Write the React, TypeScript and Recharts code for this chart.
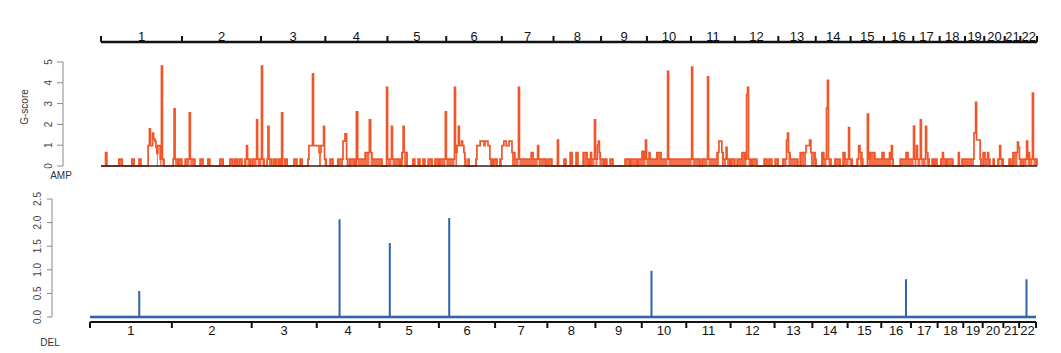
import { ComposedChart, LineChart, Line, Area, XAxis, YAxis, ReferenceLine } from 'recharts';

// hg19 chromosome lengths (Mb)
const CHROM_NAMES = ['1', '2', '3', '4', '5', '6', '7', '8', '9', '10', '11', '12', '13', '14', '15', '16', '17', '18', '19', '20', '21', '22'];
const CHROM_LEN_MB = [249.3, 243.2, 198.0, 191.2, 180.9, 171.1, 159.1, 146.4, 141.2, 135.5, 135.0, 133.9, 115.2, 107.3, 102.5, 90.4, 81.2, 78.1, 59.1, 63.0, 48.1, 51.3];

// AMP G-score profile: [genome position (Mb), G-score], held until next point
const AMP_STEPS: [number, number][] = [
  [0, 0], [14, 0.65], [18, 0], [55, 0.33], [65, 0], [95, 0.33], [102, 0], [117, 0.33], [123, 0],
  [145, 0.98], [149, 1.78], [152, 0.98], [159, 1.58], [162, 1.3], [166, 1.2], [169, 0.9], [172, 0.6], [175, 0.98], [182, 0.33], [186, 4.8], [189, 0.33], [194, 0],
  [222, 0.33], [225, 2.75], [228, 0.33], [237, 0], [240, 0.33], [249, 0],
  [259, 0.33], [272, 2.55], [275, 0.33], [289, 0], [305, 0.33], [314, 0], [329, 0.33], [335, 0], [366, 0.33], [376, 0],
  [397, 0.33], [406, 0], [412, 0.33], [419, 0], [425, 0.33], [434, 0],
  [443, 0.33], [448, 0.98], [451, 0.33], [459, 0], [465, 0.33], [479, 2.22], [482, 0.33], [494, 4.8], [497, 0.33], [502, 0],
  [511, 0.33], [514, 1.9], [517, 0.33], [526, 0], [532, 0.33], [539, 0], [545, 0.33], [551, 0],
  [556, 2.55], [559, 0], [566, 0.33], [573, 0], [594, 0.33], [603, 0], [613, 0.33], [619, 0],
  [637, 0.33], [640, 0.98], [651, 4.43], [654, 0.98], [671, 0.65], [677, 0.98], [685, 1.9], [688, 0.33], [693, 0],
  [705, 0.33], [714, 0], [729, 0.33], [745, 1.2], [751, 1.55], [756, 0.33], [760, 0], [766, 0.33], [782, 0],
  [786, 2.6], [790, 0.33], [813, 0.65], [826, 2.22], [830, 0.65], [834, 0.33], [865, 0],
  [879, 3.78], [882, 0.33], [894, 1.9], [897, 0.33], [920, 0],
  [923, 0.33], [926, 0.65], [930, 1.9], [933, 0.65], [942, 0],
  [960, 0.33], [966, 0], [976, 0.33], [982, 0], [991, 0.33], [997, 0], [1007, 0.33], [1019, 0],
  [1028, 0.33], [1040, 0], [1042, 0.33], [1060, 2.6], [1063, 0.33], [1088, 3.78], [1091, 0.65], [1096, 0.98], [1100, 1.9], [1103, 0.98], [1110, 1.2], [1113, 0.98], [1117, 0.65], [1120, 0.33], [1123, 0], [1130, 0.33], [1133, 0],
  [1154, 0.33], [1157, 0.98], [1167, 1.2], [1179, 0.98], [1182, 1.2], [1191, 0.98], [1197, 0.33], [1203, 0], [1207, 0.33], [1219, 0],
  [1228, 0.33], [1234, 0.98], [1240, 1.2], [1247, 0.98], [1256, 1.2], [1265, 0.65], [1274, 0.33], [1285, 3.78], [1288, 0.33], [1324, 0.65], [1330, 0.33], [1344, 0.98], [1347, 0.33], [1370, 0], [1376, 0.33], [1388, 0],
  [1405, 1.25], [1408, 0],
  [1425, 0.33], [1431, 0], [1444, 0.65], [1450, 0], [1462, 0.65], [1468, 0], [1484, 0.65], [1496, 0.33], [1502, 0], [1507, 0.65], [1510, 0.33], [1519, 2.22], [1522, 0.33], [1528, 1.0], [1531, 1.2], [1534, 0.65], [1537, 0.33], [1548, 0], [1551, 0.33], [1557, 0], [1567, 0.33], [1576, 0],
  [1613, 0.33], [1628, 0], [1631, 0.33], [1650, 0], [1653, 0.33], [1665, 0.7], [1671, 0.33], [1676, 1.25], [1679, 0.33], [1687, 0.65], [1690, 0.33], [1711, 0.65], [1724, 0.33], [1744, 4.55], [1747, 0.33],
  [1818, 4.75], [1821, 0.33], [1844, 0], [1850, 0.33], [1867, 4.28], [1870, 0.33], [1896, 0.65], [1902, 1.2], [1911, 0.65], [1915, 0.33], [1924, 0.9], [1927, 0.33], [1936, 0], [1939, 0.33], [1951, 0],
  [1958, 0.33], [1973, 0.65], [1982, 0.33], [1987, 3.43], [1990, 3.78], [1993, 0.33], [2001, 0],
  [2004, 0.33], [2019, 0], [2041, 0.33], [2050, 0], [2056, 0.33], [2065, 0], [2075, 0.33], [2084, 0],
  [2099, 0.33], [2110, 1.25], [2113, 1.58], [2116, 0.65], [2121, 0.33], [2145, 0],
  [2152, 0.65], [2170, 0.98], [2181, 1.25], [2185, 0.65], [2198, 0.33], [2201, 0],
  [2219, 0.65], [2225, 0.33], [2233, 2.78], [2236, 4.12], [2239, 0.33], [2247, 0],
  [2259, 0.33], [2275, 0], [2284, 0.65], [2290, 0.33], [2301, 1.85], [2304, 0.33], [2312, 0],
  [2327, 0.33], [2332, 0.98], [2336, 0.65], [2342, 0.33], [2345, 0], [2359, 2.5], [2362, 0.33], [2367, 0.65], [2382, 0.33], [2404, 0.65], [2410, 0.33], [2427, 0.65], [2430, 0.33], [2433, 0.98], [2436, 0.33], [2438, 0],
  [2460, 0.33], [2478, 0.65], [2484, 0.33], [2501, 1.92], [2504, 0.33], [2510, 0.98], [2513, 0.33], [2522, 2.22], [2525, 0.33], [2538, 1.9], [2541, 0.65], [2545, 0.33], [2549, 0],
  [2558, 0.33], [2564, 0], [2567, 0.33], [2573, 0],
  [2585, 0.33], [2590, 0.65], [2593, 0.33], [2601, 0], [2604, 0.33], [2622, 0],
  [2639, 0.65], [2642, 0], [2650, 0.33], [2687, 1.58], [2692, 3.06], [2695, 1.25], [2706, 0.33], [2709, 0],
  [2715, 0.65], [2721, 0.33], [2729, 0.65], [2732, 0.33], [2736, 0], [2746, 0.33], [2749, 0],
  [2761, 0.33], [2766, 0.98], [2769, 0.33], [2777, 0],
  [2795, 0.33], [2801, 0], [2807, 0.65], [2821, 1.15], [2824, 0.9], [2827, 0.33], [2832, 0],
  [2838, 0.33], [2849, 1.2], [2852, 0.33], [2855, 0.65], [2858, 0.33], [2867, 3.5], [2870, 0.33], [2881, 0],
];

// DEL peaks
const DEL_PEAK_MB = [150, 760, 913, 1094, 1710, 2485, 2852];
const DEL_PEAK_G = [0.55, 2.07, 1.57, 2.1, 0.98, 0.8, 0.8];

const AMP_TICKS = [0, 1, 2, 3, 4, 5];
const DEL_TICKS = [0, 0.5, 1, 1.5, 2, 2.5];

const AMP_COLOR = '#f0562a';
const DEL_COLOR = '#2e63ad';
const FONT = '"Liberation Sans", Arial, sans-serif';

const CHROM_START = CHROM_LEN_MB.reduce<number[]>((acc, len) => [...acc, acc[acc.length - 1] + len], [0]);
const GENOME_END = CHROM_START[CHROM_START.length - 1];
const CHROM_MID = CHROM_NAMES.map((_, i) => (CHROM_START[i] + CHROM_START[i + 1]) / 2);
const CHROM_TICKS = [...CHROM_START, ...CHROM_MID].sort((a, b) => a - b);

// low-level segments are dense in the original and read as solid blocks
const ampData = AMP_STEPS.map(([pos, g]) => ({ pos, g, low: g <= 0.7 ? g : 0 }));
const delData = [
  { pos: 0, g: 0 },
  ...DEL_PEAK_MB.flatMap((pos, i) => [{ pos, g: 0 }, { pos, g: DEL_PEAK_G[i] }, { pos, g: 0 }]),
  { pos: GENOME_END, g: 0 },
];

function ChromTick({ x, y, payload, side }: any) {
  const idx = CHROM_MID.indexOf(payload.value);
  if (idx >= 0) {
    return (
      <text x={x} y={side === 'top' ? y - 1 : y + 13} textAnchor="middle" fontSize={13} fontFamily={FONT} fill="#111">
        {CHROM_NAMES[idx]}
      </text>
    );
  }
  return <line x1={x} x2={x} y1={y} y2={side === 'top' ? y - 6 : y + 6} stroke="#111" strokeWidth={2} />;
}

function RotTick({ x, y, payload, digits }: any) {
  const label = digits ? Number(payload.value).toFixed(digits) : String(payload.value);
  return (
    <text x={x} y={y} transform={`rotate(-90 ${x} ${y})`} textAnchor="middle" fontSize={10} fontFamily={FONT} fill="#444">
      {label}
    </text>
  );
}

export default function App() {
  return (
    <div style={{ position: 'absolute', left: 0, top: 0, width: 1061, height: 353, background: '#fff', fontFamily: FONT }}>
      {/* AMP panel */}
      <div style={{ position: 'absolute', left: 0, top: 0 }}>
        <ComposedChart width={1061} height={185} data={ampData} margin={{ top: 22, right: 24, bottom: 19, left: 101 }}>
          <XAxis
            dataKey="pos"
            type="number"
            orientation="top"
            domain={[0, GENOME_END]}
            ticks={CHROM_TICKS}
            interval={0}
            height={20}
            tickSize={0}
            tickMargin={0}
            tickLine={false}
            axisLine={{ stroke: '#111', strokeWidth: 2.5 }}
            tick={(p: any) => <ChromTick {...p} side="top" />}
          />
          <YAxis type="number" domain={[0, 5.96]} hide />
          <Area type="stepAfter" dataKey="low" fill={AMP_COLOR} fillOpacity={0.85} stroke="none" dot={false} isAnimationActive={false} />
          <Line type="stepAfter" dataKey="g" stroke={AMP_COLOR} strokeWidth={1.7} dot={false} isAnimationActive={false} />
          <ReferenceLine y={0} stroke="#2b1d18" strokeWidth={1.5} />
        </ComposedChart>
      </div>
      <div style={{ position: 'absolute', left: 0, top: 0 }}>
        <LineChart width={70} height={185} margin={{ top: 62, right: 5, bottom: 19, left: 0 }}>
          <YAxis
            type="number"
            domain={[0, 5]}
            allowDataOverflow
            ticks={AMP_TICKS}
            interval={0}
            width={63}
            tickSize={6}
            tickMargin={5}
            axisLine={{ stroke: '#888' }}
            tickLine={{ stroke: '#888' }}
            tick={(p: any) => <RotTick {...p} />}
          />
        </LineChart>
      </div>

      {/* DEL panel */}
      <div style={{ position: 'absolute', left: 0, top: 185 }}>
        <LineChart width={1061} height={168} data={delData} margin={{ top: 14, right: 25, bottom: 11, left: 90 }}>
          <XAxis
            dataKey="pos"
            type="number"
            domain={[0, GENOME_END]}
            ticks={CHROM_TICKS}
            interval={0}
            height={20}
            tickSize={0}
            tickMargin={0}
            tickLine={false}
            axisLine={{ stroke: '#111', strokeWidth: 2 }}
            tick={(p: any) => <ChromTick {...p} side="bottom" />}
          />
          <YAxis type="number" domain={[-0.106, 2.5]} hide />
          <ReferenceLine y={0} stroke="#22467c" strokeWidth={2.5} />
          <Line type="linear" dataKey="g" stroke={DEL_COLOR} strokeWidth={2} dot={false} isAnimationActive={false} />
        </LineChart>
      </div>
      <div style={{ position: 'absolute', left: 0, top: 185 }}>
        <LineChart width={60} height={168} margin={{ top: 14, right: 4, bottom: 36, left: 0 }}>
          <YAxis
            type="number"
            domain={[0, 2.5]}
            allowDataOverflow
            ticks={DEL_TICKS}
            interval={0}
            width={52}
            tickSize={5}
            tickMargin={6}
            axisLine={{ stroke: '#888' }}
            tickLine={{ stroke: '#888' }}
            tick={(p: any) => <RotTick {...p} digits={1} />}
          />
        </LineChart>
      </div>

      {/* free labels */}
      <svg width={1061} height={353} style={{ position: 'absolute', left: 0, top: 0, pointerEvents: 'none' }}>
        <text x={28} y={107} transform="rotate(-90 28 107)" textAnchor="middle" fontSize={10} fontFamily={FONT} fill="#333">
          G-score
        </text>
        <text x={61} y={179} textAnchor="middle" fontSize={10} fontFamily={FONT} fill="#333">
          AMP
        </text>
        <text x={50} y={346} textAnchor="middle" fontSize={10} fontFamily={FONT} fill="#333">
          DEL
        </text>
      </svg>
    </div>
  );
}
